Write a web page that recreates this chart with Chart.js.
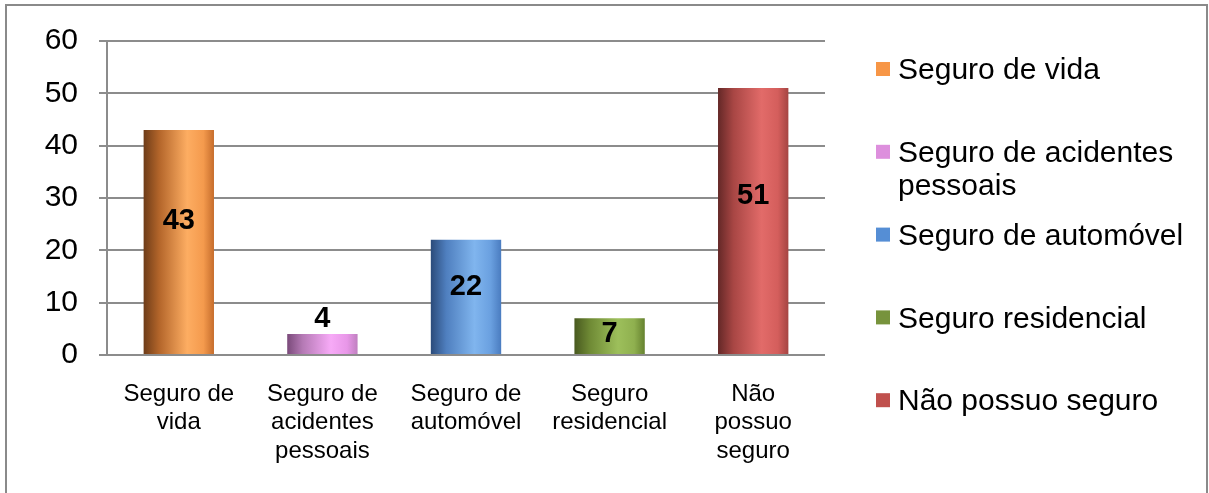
<!DOCTYPE html>
<html>
<head>
<meta charset="utf-8">
<script src="https://cdn.jsdelivr.net/npm/chart.js@4.4.1/dist/chart.umd.min.js"></script>
<style>
  html, body { margin: 0; padding: 0; background: #fff; }
  #wrap { width: 1209px; height: 493px; position: relative; }
</style>
</head>
<body>
<div id="wrap"><canvas id="seguroChart" width="1209" height="493"></canvas></div>
<script>
// ===== dados =====
const categories = [
  "Seguro de vida",
  "Seguro de acidentes pessoais",
  "Seguro de automóvel",
  "Seguro residencial",
  "Não possuo seguro",
];
// rótulos do eixo X (quebrados como no original)
const tickLabels = [
  ["Seguro de", "vida"],
  ["Seguro de", "acidentes", "pessoais"],
  ["Seguro de", "automóvel"],
  ["Seguro", "residencial"],
  ["Não", "possuo", "seguro"],
];
// rótulos da legenda
const legendLabels = [
  ["Seguro de vida"],
  ["Seguro de acidentes", "pessoais"],
  ["Seguro de automóvel"],
  ["Seguro residencial"],
  ["Não possuo seguro"],
];
const values = [43, 4, 22, 7, 51];
const yTicks = [0, 10, 20, 30, 40, 50, 60];

// cores: [escuro esquerda, meio, claro, direita]
const barShades = [
  ["#6e3c18", "#b3652a", "#fdad62", "#f49a4d", "#c66d2c"],
  ["#7a4a7a", "#b57ab5", "#f7aaf7", "#e897e8", "#c080c0"],
  ["#2b4b7a", "#4f7fbf", "#80b5ee", "#6aa0e0", "#4a7cc0"],
  ["#48591f", "#6f8a35", "#9dbf5b", "#8fb04f", "#66822f"],
  ["#642827", "#a84644", "#e26b69", "#d45e5c", "#a54442"],
];
const legendColors = ["#f79646", "#dd8fdd", "#558ed5", "#77933c", "#c0504d"];

const FONT = "'Liberation Sans', Arial, sans-serif";
const GRID = "#8c8c8c";
const BAR_PCT = 0.49;

// ===== plugins =====
const frame = {
  id: "frame",
  beforeDraw(chart) {
    const ctx = chart.ctx;
    ctx.save();
    ctx.strokeStyle = "#8a8a8a";
    ctx.lineWidth = 2;
    ctx.strokeRect(6, 5, 1201, 500);
    ctx.restore();
  },
};

const valueLabels = {
  id: "valueLabels",
  afterDatasetsDraw(chart) {
    const ctx = chart.ctx;
    const meta = chart.getDatasetMeta(0);
    const y = chart.scales.y;
    ctx.save();
    ctx.font = "bold 29px " + FONT;
    ctx.fillStyle = "#000";
    ctx.textAlign = "center";
    ctx.textBaseline = "middle";
    meta.data.forEach((bar, i) => {
      const v = values[i];
      const h = y.getPixelForValue(0) - bar.y;
      let ty;
      if (h < 30) ty = bar.y - 15;
      else ty = y.getPixelForValue(v * 0.6) + 1;
      ctx.fillText(String(v), bar.x, ty);
    });
    ctx.restore();
  },
};

const sideLegend = {
  id: "sideLegend",
  afterDraw(chart) {
    const ctx = chart.ctx;
    ctx.save();
    ctx.font = "30px " + FONT;
    ctx.fillStyle = "#000";
    ctx.textBaseline = "middle";
    legendLabels.forEach((lines, i) => {
      const cy = 71 + i * 82.8;
      ctx.fillStyle = legendColors[i];
      ctx.fillRect(876, cy - 9, 14, 14);
      ctx.fillStyle = "#000";
      lines.forEach((t, j) => ctx.fillText(t, 898, cy + j * 33));
    });
    ctx.restore();
  },
};

function barGradient(c) {
  const chart = c.chart;
  const xs = chart.scales.x;
  const i = c.dataIndex;
  if (!xs || i === undefined) return legendColors[i || 0];
  const cx = xs.getPixelForValue(i);
  const w = (xs.width / categories.length) * BAR_PCT;
  if (!isFinite(cx) || !isFinite(w) || w <= 0) return legendColors[i];
  const g = chart.ctx.createLinearGradient(cx - w / 2, 0, cx + w / 2, 0);
  const s = barShades[i];
  g.addColorStop(0, s[0]);
  g.addColorStop(0.22, s[1]);
  g.addColorStop(0.62, s[2]);
  g.addColorStop(0.85, s[3]);
  g.addColorStop(1, s[4]);
  return g;
}

const chart = new Chart(document.getElementById("seguroChart"), {
  type: "bar",
  data: {
    labels: tickLabels,
    datasets: [{
      label: "Seguros",
      data: values,
      backgroundColor: barGradient,
      borderWidth: 0,
      categoryPercentage: 1,
      barPercentage: BAR_PCT,
    }],
  },
  options: {
    responsive: false,
    animation: false,
    layout: { padding: { left: 0, top: 41, right: 384, bottom: 0 } },
    plugins: {
      legend: { display: false },
      tooltip: { enabled: false },
    },
    scales: {
      x: {
        grid: { display: false, drawTicks: false },
        border: { display: false },
        ticks: {
          color: "#000",
          padding: 25,
          maxRotation: 0,
          autoSkip: false,
          font: { family: FONT, size: 24, lineHeight: 1.19 },
        },
        afterFit(scale) { scale.height = 138; },
      },
      y: {
        min: 0,
        max: 60,
        afterBuildTicks(scale) { scale.ticks = yTicks.map((v) => ({ value: v })); },
        grid: { color: GRID, lineWidth: 2, tickLength: 8, tickColor: GRID },
        border: { display: true, color: GRID, width: 2 },
        ticks: {
          color: "#000",
          padding: 21,
          font: { family: FONT, size: 30 },
        },
        afterFit(scale) { scale.width = 107; },
      },
    },
  },
  plugins: [frame, valueLabels, sideLegend],
});
chart.update();
</script>
</body>
</html>
